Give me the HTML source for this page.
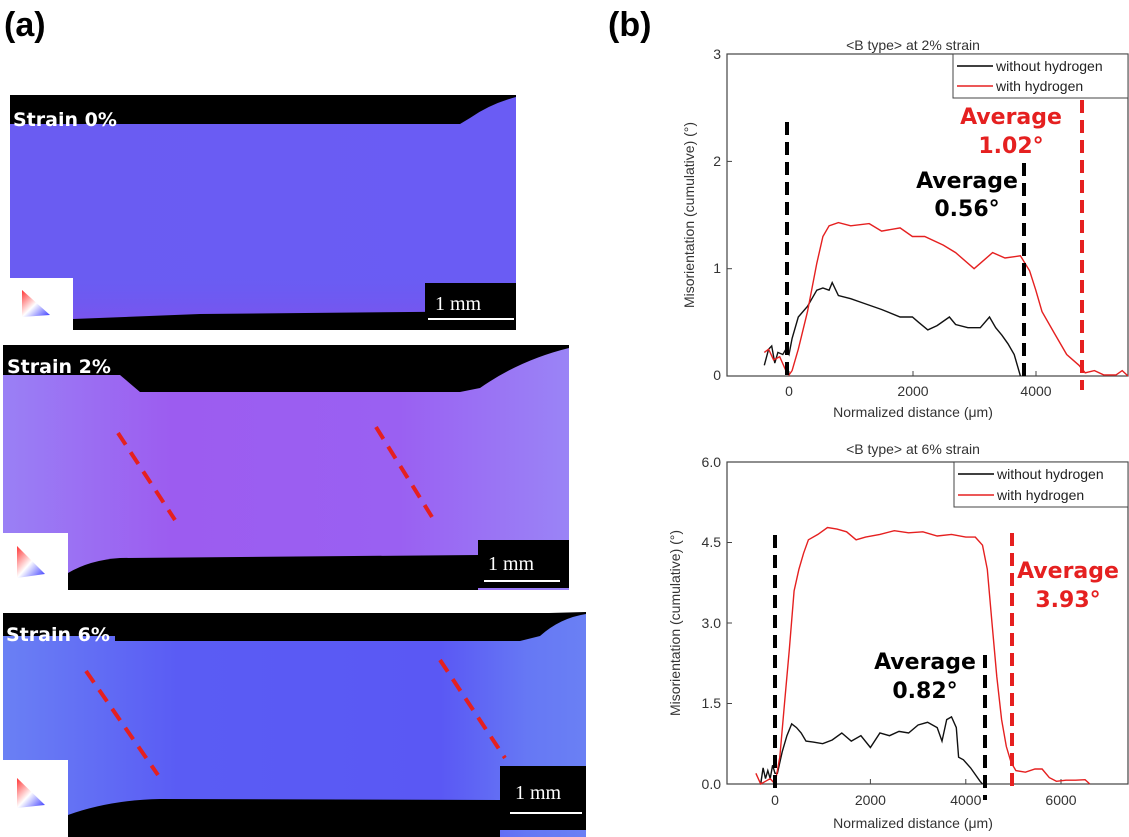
<!DOCTYPE html>
<html><head><meta charset="utf-8"><style>
body{margin:0;background:#fff;width:1129px;height:837px;overflow:hidden}
svg{display:block}
.t{font-family:"Liberation Sans",sans-serif;font-size:14px;fill:#333}
.lg{font-family:"Liberation Sans",sans-serif;font-size:14px;fill:#222}
.av{font-family:"DejaVu Sans","Liberation Sans",sans-serif;font-weight:bold;font-size:22px;text-anchor:middle}
.st{font-family:"DejaVu Sans","Liberation Sans",sans-serif;font-weight:bold;font-size:19px;fill:#fff}
.mm{font-family:"Liberation Serif",serif;font-size:20px;fill:#fff}
</style></head><body>
<svg width="1129" height="837" viewBox="0 0 1129 837" xmlns="http://www.w3.org/2000/svg">
<defs>
<linearGradient id="g1" x1="0" x2="1"><stop offset="0" stop-color="#6a5cf2"/><stop offset="1" stop-color="#6a5cf4"/></linearGradient>
<linearGradient id="g1v" x1="0" x2="0" y1="0" y2="1"><stop offset="0.75" stop-color="#6a5cf2" stop-opacity="0"/><stop offset="1" stop-color="#8a4ce8" stop-opacity="0.7"/></linearGradient>
<linearGradient id="g2" x1="0" x2="1"><stop offset="0" stop-color="#9a80f5"/><stop offset="0.3" stop-color="#9c5cf0"/><stop offset="0.7" stop-color="#9a60f2"/><stop offset="1" stop-color="#9a84f6"/></linearGradient>
<linearGradient id="g3" x1="0" x2="1"><stop offset="0" stop-color="#6a80f4"/><stop offset="0.3" stop-color="#5a5cf4"/><stop offset="0.75" stop-color="#5a58f4"/><stop offset="0.9" stop-color="#6678f4"/><stop offset="1" stop-color="#6a80f4"/></linearGradient>
<linearGradient id="tri" x1="0" x2="1" y1="0" y2="1"><stop offset="0" stop-color="#f33"/><stop offset="0.5" stop-color="#fff"/><stop offset="1" stop-color="#33f"/></linearGradient>
</defs>
<text x="4" y="36" font-family="Liberation Sans,sans-serif" font-weight="bold" font-size="34">(a)</text>
<text x="608" y="36" font-family="Liberation Sans,sans-serif" font-weight="bold" font-size="34">(b)</text>

<!-- image 1 -->
<rect x="10" y="95" width="506" height="235" fill="url(#g1)"/>
<rect x="10" y="95" width="506" height="235" fill="url(#g1v)"/>
<path d="M10 95 H516 V97 Q490 104 470 118 L460 124 H10 Z" fill="#000"/>
<path d="M73 330 V319 L200 314 L516 311 V330 Z" fill="#000"/>
<rect x="10" y="278" width="63" height="52" fill="#fff"/>
<polygon points="22,290 22,317 50,315" fill="url(#tri)"/>
<rect x="425" y="283" width="91" height="39" fill="#000"/>
<text x="435" y="310" class="mm">1 mm</text><rect x="428" y="318" width="86" height="2" fill="#fff"/>
<text x="13" y="126" class="st">Strain 0%</text>

<!-- image 2 -->
<rect x="3" y="345" width="566" height="245" fill="url(#g2)"/>
<path d="M3 345 H569 V348 Q520 360 480 388 L460 392 H140 L120 375 H3 Z" fill="#000"/>
<path d="M68 590 V573 Q90 560 120 558 L478 555 V590 Z" fill="#000"/>
<rect x="3" y="533" width="65" height="57" fill="#fff"/>
<polygon points="17,546 17,578 45,574" fill="url(#tri)"/>
<rect x="478" y="540" width="91" height="48" fill="#000"/>
<text x="488" y="570" class="mm">1 mm</text><rect x="484" y="580" width="76" height="2" fill="#fff"/>
<text x="7" y="373" class="st">Strain 2%</text>
<line x1="118" y1="433" x2="175" y2="520" stroke="#e52020" stroke-width="4" stroke-dasharray="14,9"/>
<line x1="376" y1="427" x2="432" y2="517" stroke="#e52020" stroke-width="4" stroke-dasharray="14,9"/>

<!-- image 3 -->
<rect x="3" y="613" width="583" height="224" fill="url(#g3)"/>
<path d="M3 613 H549 L586 612 V614 Q560 618 540 636 L520 641 H115 V636 H3 Z" fill="#000"/>
<path d="M68 837 V815 Q110 800 160 799 L500 800 V837 Z" fill="#000"/>
<rect x="3" y="760" width="65" height="77" fill="#fff"/>
<polygon points="17,778 17,808 45,805" fill="url(#tri)"/>
<rect x="500" y="766" width="86" height="64" fill="#000"/>
<text x="515" y="799" class="mm">1 mm</text><rect x="510" y="812" width="72" height="2" fill="#fff"/>
<text x="6" y="641" class="st">Strain 6%</text>
<line x1="86" y1="671" x2="158" y2="775" stroke="#e52020" stroke-width="4" stroke-dasharray="14,9"/>
<line x1="440" y1="660" x2="505" y2="758" stroke="#e52020" stroke-width="4" stroke-dasharray="14,9"/>

<!-- chart 1 -->
<text x="913" y="50" class="t" text-anchor="middle">&lt;B type&gt; at 2% strain</text>
<rect x="727" y="54" width="401" height="322" fill="none" stroke="#444" stroke-width="1.2"/>
<g stroke="#444" stroke-width="1">
<line x1="727" y1="161.4" x2="732" y2="161.4"/><line x1="727" y1="268.7" x2="732" y2="268.7"/>
<line x1="789" y1="376" x2="789" y2="371"/><line x1="913" y1="376" x2="913" y2="371"/><line x1="1036" y1="376" x2="1036" y2="371"/>
</g>
<g class="t" text-anchor="end"><text x="721" y="59">3</text><text x="721" y="166">2</text><text x="721" y="273">1</text><text x="721" y="380">0</text></g>
<g class="t" text-anchor="middle"><text x="789" y="396">0</text><text x="913" y="396">2000</text><text x="1036" y="396">4000</text></g>
<text x="913" y="417" class="t" text-anchor="middle">Normalized distance (μm)</text>
<text transform="translate(694,215) rotate(-90)" class="t" text-anchor="middle">Misorientation (cumulative) (°)</text>
<polyline fill="none" stroke="#111" stroke-width="1.4" points="764.3,365.3 768.6,349.2 771.7,346 774.8,363.1 777.9,352.4 782.8,354.5 785.9,349.2 789,354.5 792.1,338.4 798.3,317 807.5,306.3 816.8,290.2 822.9,288 829.1,290.2 832.2,282.6 838.4,295.5 850.7,298.7 863,303 881.6,309.5 900.1,317 912.4,317 918.6,322.3 927.8,329.9 937.1,325.6 949.4,317 955.6,324.5 967.9,327.7 980.3,327.7 989.5,317 995.7,327.7 1001.9,335.2 1008,343.8 1014.2,354.5 1020.4,376"/>
<polyline fill="none" stroke="#e52020" stroke-width="1.4" points="764.3,352.4 768.6,349.2 773.6,359.9 779.7,356.7 785.9,370.6 789,374.9 792.1,370.6 798.3,349.2 807.5,311.6 816.8,263.3 822.9,236.5 829.1,225.8 838.4,222.6 850.7,225.8 869.2,223.6 881.6,231.1 900.1,227.9 912.4,236.5 924.7,236.5 943.3,245.1 955.6,252.6 974.1,268.7 980.3,263.3 992.6,252.6 1005,258 1020.4,255.8 1029.6,270.8 1035.8,290.2 1042,311.6 1054.3,333.1 1066.7,354.5 1079,365.3 1085.2,372.8 1094.4,370.6 1103.7,374.9 1116,374.9 1122.2,370.6 1128,376"/>
<line x1="787" y1="122" x2="787" y2="378" stroke="#000" stroke-width="4" stroke-dasharray="13,7"/>
<line x1="1024" y1="163" x2="1024" y2="380" stroke="#000" stroke-width="4" stroke-dasharray="13,7"/>
<line x1="1082" y1="100" x2="1082" y2="390" stroke="#e52020" stroke-width="4" stroke-dasharray="13,7"/>
<rect x="953" y="54" width="175" height="44" fill="#fff" stroke="#444"/>
<line x1="957" y1="66" x2="993" y2="66" stroke="#000" stroke-width="1.5"/><text x="996" y="71" class="lg">without hydrogen</text>
<line x1="957" y1="86" x2="993" y2="86" stroke="#e52020" stroke-width="1.5"/><text x="996" y="91" class="lg">with hydrogen</text>
<text x="1011" y="124" class="av" fill="#e52020">Average</text><text x="1011" y="153" class="av" fill="#e52020">1.02°</text>
<text x="967" y="188" class="av" fill="#000">Average</text><text x="967" y="216" class="av" fill="#000">0.56°</text>

<!-- chart 2 -->
<text x="913" y="454" class="t" text-anchor="middle">&lt;B type&gt; at 6% strain</text>
<rect x="727" y="462" width="401" height="322" fill="none" stroke="#444" stroke-width="1.2"/>
<g stroke="#444" stroke-width="1">
<line x1="727" y1="542.5" x2="732" y2="542.5"/><line x1="727" y1="623" x2="732" y2="623"/><line x1="727" y1="703.5" x2="732" y2="703.5"/>
<line x1="775" y1="784" x2="775" y2="779"/><line x1="870.4" y1="784" x2="870.4" y2="779"/><line x1="965.8" y1="784" x2="965.8" y2="779"/><line x1="1061" y1="784" x2="1061" y2="779"/>
</g>
<g class="t" text-anchor="end"><text x="721" y="467">6.0</text><text x="721" y="547">4.5</text><text x="721" y="628">3.0</text><text x="721" y="708">1.5</text><text x="721" y="789">0.0</text></g>
<g class="t" text-anchor="middle"><text x="775" y="805">0</text><text x="870.4" y="805">2000</text><text x="965.8" y="805">4000</text><text x="1061" y="805">6000</text></g>
<text x="913" y="828" class="t" text-anchor="middle">Normalized distance (μm)</text>
<text transform="translate(680,623) rotate(-90)" class="t" text-anchor="middle">Misorientation (cumulative) (°)</text>
<polyline fill="none" stroke="#111" stroke-width="1.4" points="760.7,784 763.1,767.9 765.5,778.6 767.8,770.6 770.2,778.6 772.6,765.2 775,773.3 777.4,773.3 782.2,751.8 786.9,735.7 791.7,723.9 796.5,727.6 801.2,733 806,741.1 813.2,742.1 822.7,743.7 832.2,740 841.8,733 851.3,741.1 860.9,735.7 870.4,747.5 879.9,733 889.5,735.7 899,731.4 908.6,733 918.1,725 927.6,722.3 937.2,727.6 942,741.1 946.7,719.6 951.5,716.9 956.3,727.6 958.6,757.2 963.4,759.8 970.6,767.9 980.1,781.3 982.5,784"/>
<polyline fill="none" stroke="#e52020" stroke-width="1.4" points="755.9,773.3 760.7,784 765.5,781.3 770.2,778.6 775,784 779.8,757.2 784.5,703.5 789.3,649.8 794.1,590.8 798.9,569.3 803.6,553.2 808.4,539.8 817.9,534.4 827.5,527.5 837,529.1 846.6,531.8 856.1,539.8 865.6,537.1 879.9,534.4 894.3,530.7 908.6,532.8 922.9,531.8 937.2,536 951.5,534.4 965.8,537.1 975.3,537.1 982.5,545.2 987.3,569.3 992,623 996.8,676.7 1001.6,719.6 1006.3,746.4 1011.1,762.5 1015.9,770.6 1025.4,772.2 1035,769 1042.1,769 1049.3,777.6 1056.4,781.3 1066,780.2 1075.5,780.2 1085.1,779.7 1089.8,784"/>
<line x1="775" y1="535" x2="775" y2="790" stroke="#000" stroke-width="4" stroke-dasharray="13,7"/>
<line x1="985" y1="655" x2="985" y2="800" stroke="#000" stroke-width="4" stroke-dasharray="13,7"/>
<line x1="1012" y1="533" x2="1012" y2="792" stroke="#e52020" stroke-width="4" stroke-dasharray="13,7"/>
<rect x="954" y="462" width="174" height="45" fill="#fff" stroke="#444"/>
<line x1="958" y1="474" x2="994" y2="474" stroke="#000" stroke-width="1.5"/><text x="997" y="479" class="lg">without hydrogen</text>
<line x1="958" y1="495" x2="994" y2="495" stroke="#e52020" stroke-width="1.5"/><text x="997" y="500" class="lg">with hydrogen</text>
<text x="1068" y="578" class="av" fill="#e52020">Average</text><text x="1068" y="607" class="av" fill="#e52020">3.93°</text>
<text x="925" y="669" class="av" fill="#000">Average</text><text x="925" y="698" class="av" fill="#000">0.82°</text>
</svg>
</body></html>
